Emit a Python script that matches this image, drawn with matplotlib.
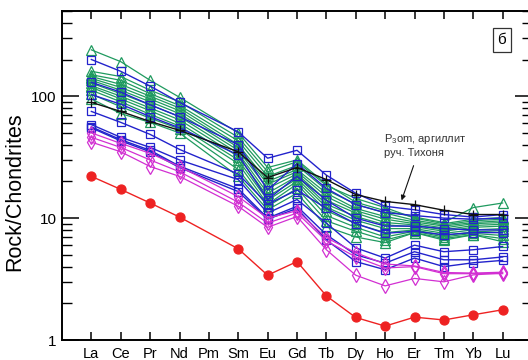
import numpy as np
import matplotlib
matplotlib.use("Agg")
import matplotlib.pyplot as plt
from matplotlib.ticker import LogLocator, NullFormatter, FixedLocator

# ---------------------------------------------------------------- DATA
ELEMENTS = ["La", "Ce", "Pr", "Nd", "Pm", "Sm", "Eu", "Gd", "Tb", "Dy",
            "Ho", "Er", "Tm", "Yb", "Lu"]
# Pm not analysed -> series carry 14 values
DATA_ELEMENTS = ["La", "Ce", "Pr", "Nd", "Sm", "Eu", "Gd", "Tb", "Dy",
                 "Ho", "Er", "Tm", "Yb", "Lu"]

green_1  = [240, 192, 135, 98, 50, 26, 30, 19, 13.5, 11.5, 10.2, 9.2, 12.2, 13.3]
green_2  = [160, 145, 112, 90, 46, 24, 29, 18.5, 14.5, 12.2, 10.0, 9.0, 9.8, 10.1]
green_3  = [150, 135, 105, 84, 43, 22, 27, 17, 13, 11, 9.6, 8.8, 9.5, 9.8]
green_4  = [145, 125, 100, 80, 40, 20, 25, 16, 12, 10.3, 9.3, 8.6, 9.2, 9.5]
green_5  = [140, 118, 95, 76, 38, 19, 24, 15, 11.5, 9.8, 9.0, 8.3, 9.0, 9.2]
green_6  = [135, 112, 90, 72, 36, 17.5, 23, 14, 11, 9.2, 8.8, 8.0, 8.7, 8.9]
green_7  = [128, 105, 85, 68, 34, 16, 22, 13, 10.3, 8.8, 8.5, 7.8, 8.4, 8.6]
green_8  = [122, 100, 80, 64, 32, 15, 21, 12.3, 9.6, 8.2, 8.2, 7.5, 8.0, 8.2]
green_9  = [118, 95, 76, 60, 30, 14, 20, 11.5, 9.0, 7.6, 8.0, 7.2, 7.7, 7.9]
green_10 = [112, 90, 71, 57, 28, 13, 19, 10.5, 8.4, 7.0, 7.8, 7.0, 7.5, 7.2]
green_11 = [104, 82, 66, 54, 25, 12.5, 17.5, 9.5, 7.8, 6.6, 7.6, 6.8, 7.3, 6.8]
green_12 = [95, 72, 61, 50, 22, 11.7, 16, 8.5, 7.0, 6.3, 7.6, 6.6, 7.3, 6.4]

blue_1 = [200, 160, 121, 89, 51, 31, 36, 22.5, 16, 12.5, 11.7, 10.7, 10.2, 10.7]
blue_2 = [130, 108, 85, 68, 40, 17, 28, 17.5, 12.9, 11.1, 10.5, 10.0, 9.8, 10.0]
blue_3 = [103, 86, 68, 55, 33, 14.2, 22, 14, 10, 8.6, 8.6, 8.2, 8.0, 8.0]
blue_4 = [75, 61, 48.6, 36.6, 23, 13, 17, 12, 9, 7.5, 7.8, 7.3, 7.6, 7.6]
blue_5 = [58.5, 46, 38, 30, 20.7, 11, 14.2, 9.1, 5.7, 4.7, 6.0, 5.3, 5.5, 5.85]
blue_6 = [56, 44, 36, 26.7, 17.4, 10, 12.5, 7.3, 5.0, 4.27, 5.3, 4.55, 4.55, 4.8]
blue_7 = [55, 43, 35, 26, 16.5, 9.8, 12, 6.6, 4.4, 3.77, 4.7, 4.0, 4.3, 4.5]

magenta_1 = [50, 41, 34, 26.5, 15, 10, 11.5, 6.9, 5.2, 4.2, 4.05, 3.58, 3.54, 3.6]
magenta_2 = [46, 38, 30, 24, 13.5, 9.1, 11, 6.5, 4.8, 3.9, 4.0, 3.5, 3.5, 3.5]
magenta_3 = [42, 35, 26.5, 22, 12.5, 8.4, 10.3, 5.5, 3.4, 2.78, 3.2, 3.0, 3.42, 3.55]

# P3om argillite, Tikhonya creek
argillite = [89, 75, 62, 52.5, 35, 21.5, 26, 20.7, 15.6, 13.7, 12.9, 11.6, 10.7, 10.7]
# lowest profile (red)
red_series = [22, 17.2, 13.3, 10.2, 5.6, 3.4, 4.4, 2.3, 1.53, 1.30, 1.54, 1.46, 1.61, 1.77]

GREEN_SERIES = [green_1, green_2, green_3, green_4, green_5, green_6,
                green_7, green_8, green_9, green_10, green_11, green_12]
BLUE_SERIES = [blue_1, blue_2, blue_3, blue_4, blue_5, blue_6, blue_7]
MAGENTA_SERIES = [magenta_1, magenta_2, magenta_3]

# ---------------------------------------------------------------- STYLE
GREEN = "#1f9a5f"
BLUE = "#2323cc"
MAGENTA = "#d22fd2"
RED = "#ee2222"
BLACK = "#111111"

plt.rcParams["font.family"] = ["Liberation Sans", "DejaVu Sans"]
plt.rcParams["mathtext.fontset"] = "custom"
plt.rcParams["mathtext.rm"] = "Liberation Sans"

x_of = {el: i for i, el in enumerate(ELEMENTS)}
xs = [x_of[el] for el in DATA_ELEMENTS]

fig = plt.figure(figsize=(5.28, 3.6), dpi=100)
ax = fig.add_axes([62 / 528, 20 / 360, 470 / 528, 329 / 360])


def profile(vals, color, marker, ms, lw=0.9, filled=False, z=2):
    ax.plot(xs, vals, color=color, lw=lw, marker=marker, ms=ms,
            mfc=color if filled else "none", mec=color, mew=0.9, zorder=z)


for s in GREEN_SERIES:
    profile(s, GREEN, "^", 7)
for s in BLUE_SERIES:
    profile(s, BLUE, "s", 6, lw=1.0, z=3)
for s in MAGENTA_SERIES:
    profile(s, MAGENTA, "d", 7, z=3)
profile(argillite, BLACK, "+", 7.5, lw=1.0, z=4)
profile(red_series, RED, "o", 6.5, lw=1.0, filled=True, z=4)

# ---------------------------------------------------------------- AXES
ax.set_yscale("log")
ax.set_ylim(1, 500)
ax.set_xlim(-1, 15)
ax.xaxis.set_major_locator(FixedLocator(range(len(ELEMENTS))))
ax.set_xticklabels(ELEMENTS, fontsize=10.5)
ax.yaxis.set_minor_locator(LogLocator(base=10, subs=np.arange(2, 10), numticks=12))
ax.yaxis.set_minor_formatter(NullFormatter())
ax.set_yticks([1, 10, 100])
ax.set_yticklabels(["1", "10", "100"], fontsize=11)
ax.tick_params(axis="x", direction="in", top=True, length=6, width=1.1, pad=5)
ax.tick_params(axis="y", which="major", direction="in", right=True,
               length=12, width=1.1, pad=4)
ax.tick_params(axis="y", which="minor", direction="in", right=True,
               length=7, width=1.0)
for sp in ax.spines.values():
    sp.set_linewidth(1.4)
ax.set_ylabel("Rock/Chondrites", fontsize=15.5)
ax.yaxis.set_label_coords(-0.078, 0.45)

# sample label and panel letter
ax.text(9.95, 40, "P$_3$om, аргиллит\nруч. Тихоня", fontsize=8,
        color="#333333", ha="left", va="center", linespacing=1.3)
ax.annotate("", xy=(10.53, 13.3), xytext=(11.0, 28.3),
            arrowprops=dict(arrowstyle="-|>", color=BLACK, lw=0.8,
                            mutation_scale=7))
ax.text(0.936, 0.912, "б", transform=ax.transAxes, fontsize=11,
        ha="center", va="center",
        bbox=dict(boxstyle="square,pad=0.3", fc="white", ec="#333333", lw=0.9))

fig.savefig("out.png", dpi=100)
